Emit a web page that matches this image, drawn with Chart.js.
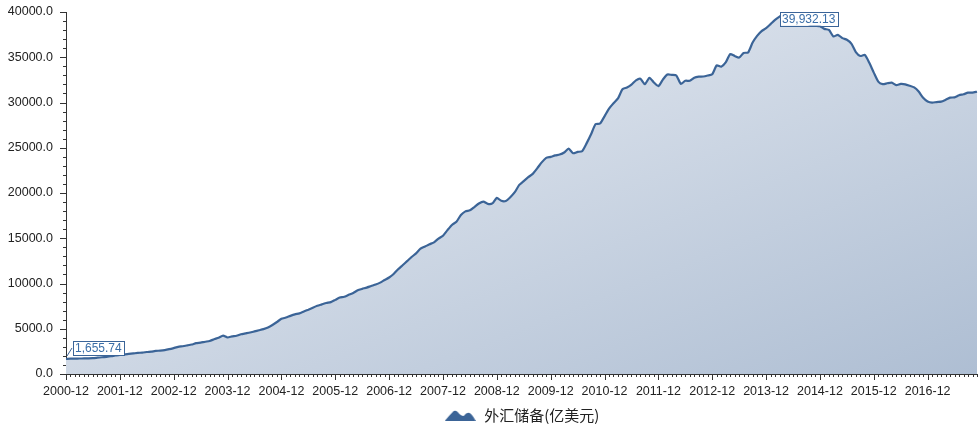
<!DOCTYPE html>
<html>
<head>
<meta charset="utf-8">
<script src="https://cdn.jsdelivr.net/npm/chart.js@4.4.1/dist/chart.umd.min.js"></script>
<style>
  html, body { margin: 0; padding: 0; background: #fff; }
  #wrap { width: 978px; height: 429px; }
</style>
</head>
<body>
<div id="wrap"><canvas id="chart"></canvas></div>
<script>
// months shown on the x axis: 2000-12 .. 2017-11
const firstLabel = '2000-12';
const years = [2001, 2002, 2003, 2004, 2005, 2006, 2007, 2008, 2009, 2010, 2011, 2012, 2013, 2014, 2015, 2016, 2017];
const months = ['01', '02', '03', '04', '05', '06', '07', '08', '09', '10', '11', '12'];
const lastLabel = '2017-11';

// foreign exchange reserves, 100 million USD, one value per month
const reserves = [
  1655.74,
  1690, 1700, 1710, 1720, 1730, 1750, 1800, 1850, 1900, 1960, 2040, 2121.65,
  2155, 2219, 2274, 2338, 2358, 2428, 2478, 2547, 2586, 2645, 2742, 2864.07,
  2998, 3069, 3161, 3257, 3404, 3465, 3567, 3646, 3840, 4005, 4240, 4032.51,
  4153, 4226, 4398, 4490, 4581, 4707, 4832, 4960, 5146, 5420, 5746, 6099.32,
  6236, 6426, 6591, 6704, 6910, 7110, 7327, 7532, 7690, 7849, 7941, 8188.72,
  8452, 8537, 8751, 8950, 9250, 9411, 9546, 9720, 9879, 10096, 10388, 10663.44,
  11047, 11577, 12020, 12467, 12927, 13326, 13852, 14086, 14336, 14549, 14969, 15282.49,
  15898, 16471, 16822, 17567, 17969, 18088, 18452, 18842, 19056, 18797, 18846, 19460.30,
  19135, 19121, 19537, 20089, 20895, 21316, 21745, 22110, 22726, 23383, 23876, 23991.52,
  24152, 24248, 24471, 24905, 24395, 24543, 24612, 25483, 26483, 27609, 27679, 28473.38,
  29317, 29914, 30447, 31459, 31660, 31975, 32453, 32625, 32017, 32738, 32209, 31811.48,
  32536, 33097, 33050, 32990, 32061, 32400, 32400, 32730, 32851, 32874, 32980, 33115.89,
  34101, 33955, 34427, 35345, 35148, 34967, 35478, 35530, 36627, 37366, 37895, 38213.15,
  38666, 39137, 39481, 39788, 39839, 39932.13, 39663, 39688, 38877, 38529, 38474, 38430.18,
  38134, 38015, 37300, 37481, 37111, 36938, 36513, 35574, 35141, 35255, 34383, 33303.62,
  32309, 32023, 32126, 32197, 31915, 32052, 32011, 31852, 31664, 31207, 30516, 30105.17,
  29982, 30051, 30091, 30295, 30536, 30568, 30807, 30915, 31085, 31092, 31193
];

const seriesName = '外汇储备(亿美元)';
const yTicks = [0, 5000, 10000, 15000, 20000, 25000, 30000, 35000, 40000];

// build the category list
const labels = [firstLabel];
for (const yr of years) {
  for (const m of months) {
    const l = yr + '-' + m;
    labels.push(l);
    if (l === lastLabel) break;
  }
}

const lineColor = '#3b6497';
const axisColor = '#333';
const textFont = '"Liberation Sans", Arial, sans-serif';

// little mountain icon for the legend
const icon = document.createElement('canvas');
icon.width = 31; icon.height = 11;
(function () {
  const c = icon.getContext('2d');
  c.fillStyle = lineColor;
  c.beginPath();
  c.moveTo(0, 11);
  c.quadraticCurveTo(5, 5, 9, 1);
  c.quadraticCurveTo(11, 0, 13, 2);
  c.quadraticCurveTo(16, 6, 19, 6);
  c.quadraticCurveTo(22, 2, 25, 3);
  c.quadraticCurveTo(28, 5, 31, 11);
  c.closePath();
  c.fill();
})();

function fmt(v) {
  return v.toLocaleString('en-US', {minimumFractionDigits: 2, maximumFractionDigits: 2});
}

function drawBox(ctx, text, left, top) {
  ctx.font = '12px ' + textFont;
  const w = Math.ceil(ctx.measureText(text).width) + 4;
  ctx.fillStyle = '#fff';
  ctx.fillRect(left, top, w, 14);
  ctx.strokeStyle = '#3a6498';
  ctx.lineWidth = 1;
  ctx.strokeRect(Math.round(left) + 0.5, Math.round(top) + 0.5, w, 14);
  ctx.fillStyle = '#3a6ea8';
  ctx.textBaseline = 'middle';
  ctx.textAlign = 'left';
  ctx.fillText(text, left + 2, top + 8);
}

// tick marks and the value callouts
const decor = {
  id: 'decor',
  afterDatasetsDraw(chart) {
    const {ctx, scales: {x, y}} = chart;
    ctx.save();
    ctx.strokeStyle = axisColor;
    ctx.lineWidth = 1;
    ctx.beginPath();
    for (let v = 0; v <= 40000; v += 1000) {
      const py = Math.round(y.getPixelForValue(v)) + 0.5;
      const len = v % 5000 === 0 ? 6 : 3;
      ctx.moveTo(x.left - len, py);
      ctx.lineTo(x.left, py);
    }
    labels.forEach((l, i) => {
      const px = Math.round(x.getPixelForValue(i)) + 0.5;
      const len = l.endsWith('-12') ? 6 : 3;
      ctx.moveTo(px, y.bottom);
      ctx.lineTo(px, y.bottom + len);
    });
    ctx.stroke();

    // first value
    const fx = x.getPixelForValue(0), fy = y.getPixelForValue(reserves[0]);
    ctx.beginPath();
    ctx.moveTo(fx + 1, fy - 3);
    ctx.lineTo(fx + 6, fy - 11);
    ctx.strokeStyle = '#3a6498';
    ctx.stroke();
    drawBox(ctx, fmt(reserves[0]), fx + 7, fy - 18);

    // highest value
    const maxV = Math.max(...reserves);
    const mi = reserves.indexOf(maxV);
    const mx = x.getPixelForValue(mi), my = y.getPixelForValue(maxV);
    drawBox(ctx, fmt(maxV), mx - 13, my - 1);
    ctx.restore();
  }
};

const canvas = document.getElementById('chart');
const ctx = canvas.getContext('2d');

new Chart(ctx, {
  type: 'line',
  data: {
    labels: labels,
    datasets: [{
      label: seriesName,
      data: reserves,
      borderColor: lineColor,
      borderWidth: 2.2,
      pointRadius: 0,
      tension: 0.2,
      fill: 'origin',
      pointStyle: icon,
      backgroundColor: (c) => {
        const a = c.chart.chartArea;
        if (!a) return '#cfd8e4';
        const W = a.right - a.left, H = a.bottom - a.top;
        const s = 2 * W * H / (W * W + H * H);
        const g = c.chart.ctx.createLinearGradient(a.left, a.top, a.left + H * s, a.top + W * s);
        g.addColorStop(0, '#eef1f6');
        g.addColorStop(1, '#aebed3');
        return g;
      }
    }]
  },
  options: {
    responsive: true,
    maintainAspectRatio: false,
    animation: false,
    layout: { padding: { top: 12, right: 1, left: 0, bottom: -4 } },
    scales: {
      x: {
        type: 'category',
        grid: { display: false, drawTicks: false, tickLength: 0 },
        border: { display: true, color: axisColor, width: 1 },
        ticks: {
          autoSkip: false,
          maxRotation: 0,
          padding: 10,
          color: '#222',
          font: { family: textFont, size: 12.5 },
          callback: function (v, i) {
            const l = labels[i];
            return l.endsWith('-12') ? l : null;
          }
        },
        afterFit: (s) => { s.height = 27; }
      },
      y: {
        min: 0,
        max: 40000,
        afterBuildTicks: (s) => { s.ticks = yTicks.map(v => ({value: v})); },
        grid: { display: false, drawTicks: false, tickLength: 0 },
        border: { display: true, color: axisColor, width: 1 },
        ticks: {
          padding: 13,
          color: '#222',
          font: { family: textFont, size: 12.5 },
          callback: (v) => Number(v).toFixed(1)
        },
        afterFit: (s) => { s.width = 66; s.paddingTop = 0; s.paddingBottom = 0; }
      }
    },
    plugins: {
      tooltip: { enabled: false },
      legend: {
        position: 'bottom',
        fullSize: false,
        labels: {
          usePointStyle: true,
          pointStyleWidth: 33,
          padding: 7,
          color: '#222',
          font: { family: '"Noto Sans CJK SC", sans-serif', size: 15 }
        }
      }
    }
  },
  plugins: [decor]
});
</script>
</body>
</html>
